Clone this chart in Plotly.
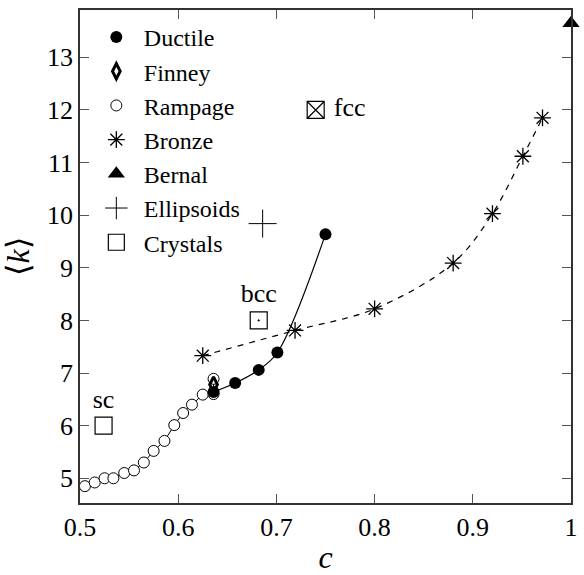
import plotly.graph_objects as go

# ---- data ----
rampage_c = [0.505, 0.515, 0.525, 0.534, 0.545, 0.555, 0.565, 0.575, 0.586, 0.596, 0.605, 0.614, 0.625, 0.636, 0.636]
rampage_k = [4.85, 4.92, 5.00, 5.00, 5.10, 5.15, 5.30, 5.52, 5.71, 6.01, 6.24, 6.40, 6.59, 6.60, 6.89]

ductile_c = [0.636, 0.658, 0.682, 0.701, 0.750]
ductile_k = [6.64, 6.81, 7.06, 7.39, 9.64]

finney_c = [0.636]
finney_k = [6.78]

bronze_c = [0.625, 0.719, 0.800, 0.880, 0.920, 0.951, 0.971]
bronze_k = [7.33, 7.81, 8.22, 9.09, 10.03, 11.12, 11.85]

bernal_c = [1.0]
bernal_k = [13.65]

ellipsoid_c = [0.686]
ellipsoid_k = [9.84]

crystal_c = [0.524, 0.682, 0.740]
crystal_k = [6.0, 8.0, 12.0]
crystal_labels = ["sc", "bcc", "\u00a0fcc"]

x_ticks = [0.5, 0.6, 0.7, 0.8, 0.9, 1.0]
x_ticklabels = ["0.5", "0.6", "0.7", "0.8", "0.9", "1"]
y_ticks = [5, 6, 7, 8, 9, 10, 11, 12, 13]

FONT = "Liberation Serif"
INK = "black"

fig = go.Figure()

# connecting lines (not in legend)
fig.add_trace(go.Scatter(x=rampage_c, y=rampage_k, mode="lines",
                         line=dict(color=INK, width=1), showlegend=False, hoverinfo="skip"))
fig.add_trace(go.Scatter(x=ductile_c, y=ductile_k, mode="lines",
                         line=dict(color=INK, width=1.2, shape="spline", smoothing=1.0),
                         showlegend=False, hoverinfo="skip"))
fig.add_trace(go.Scatter(x=bronze_c, y=bronze_k, mode="lines",
                         line=dict(color=INK, width=1.2, shape="spline", smoothing=1.0, dash="6px,6px"),
                         showlegend=False, hoverinfo="skip"))

# markers (drawing order: Rampage below Ductile and Finney; legend order by rank)
fig.add_trace(go.Scatter(x=rampage_c, y=rampage_k, mode="markers", name="Rampage", legendrank=3,
                         marker=dict(symbol="circle", size=11, color="white", line=dict(width=1, color=INK))))
fig.add_trace(go.Scatter(x=ductile_c, y=ductile_k, mode="markers", name="Ductile", legendrank=1,
                         marker=dict(symbol="circle", size=12, color=INK)))
fig.add_trace(go.Scatter(x=finney_c, y=finney_k, mode="markers", name="Finney", legendrank=2,
                         marker=dict(symbol="diamond-tall-open", size=11, color=INK, line=dict(width=3, color=INK))))
fig.add_trace(go.Scatter(x=bronze_c, y=bronze_k, mode="markers", name="Bronze", legendrank=4,
                         marker=dict(symbol="asterisk-open", size=14, color=INK, line=dict(width=1.3, color=INK))))
fig.add_trace(go.Scatter(x=bernal_c, y=bernal_k, mode="markers", name="Bernal", legendrank=5, cliponaxis=False,
                         marker=dict(symbol="triangle-up", size=15, color=INK)))
fig.add_trace(go.Scatter(x=ellipsoid_c, y=ellipsoid_k, mode="markers", name="Ellipsoids", legendrank=6,
                         marker=dict(symbol="cross-thin-open", size=20, color=INK, line=dict(width=1, color=INK))))
fig.add_trace(go.Scatter(x=crystal_c, y=crystal_k, mode="markers+text", name="Crystals", legendrank=7,
                         text=crystal_labels,
                         textposition=["top center", "top center", "middle right"],
                         textfont=dict(family=FONT, size=26, color=INK),
                         marker=dict(symbol=["square-open", "square-open-dot", "square-x-open"], size=17,
                                     color=INK, line=dict(width=1.2, color=INK))))

axis_common = dict(
    showline=True, linecolor="#333", linewidth=1.5, mirror="ticks",
    ticks="inside", ticklen=9, tickwidth=1.2, tickcolor="#555",
    showgrid=False, zeroline=False,
    tickfont=dict(family=FONT, size=26, color=INK),
)

fig.update_xaxes(range=[0.5, 1.0], tickvals=x_ticks, ticktext=x_ticklabels,
                 title=dict(text="<i>c</i>", font=dict(family=FONT, size=32, color=INK), standoff=5),
                 **axis_common)
fig.update_yaxes(range=[4.53, 13.9], tickvals=y_ticks,
                 title=dict(text="⟨<i>k</i>⟩", font=dict(family=FONT, size=32, color=INK), standoff=8),
                 **axis_common)

fig.update_layout(
    width=584, height=575,
    margin=dict(l=80, r=6, t=10, b=62),
    paper_bgcolor="white", plot_bgcolor="white",
    font=dict(family=FONT, color=INK),
    legend=dict(x=0.018, y=0.99, xanchor="left", yanchor="top",
                bgcolor="rgba(0,0,0,0)", borderwidth=0,
                font=dict(family=FONT, size=24, color=INK),
                itemwidth=45, tracegroupgap=0),
)

fig.write_html("out.html")
